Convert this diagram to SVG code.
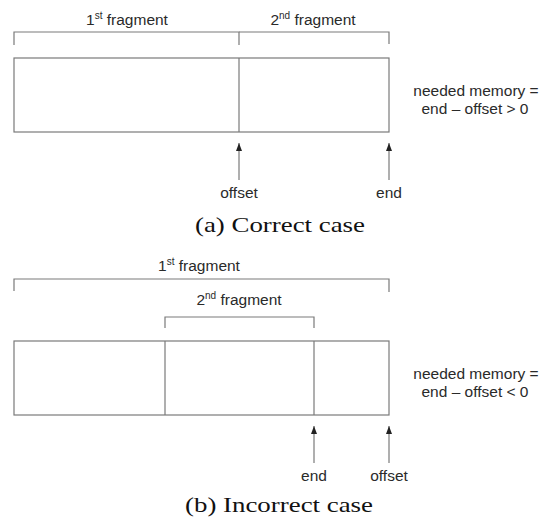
<svg xmlns="http://www.w3.org/2000/svg" width="540" height="520" viewBox="0 0 540 520">
<defs>
<style>
.ln{stroke:#7a7a7a;stroke-width:1.2;fill:none}
.box{stroke:#7a7a7a;stroke-width:1.2;fill:#ffffff}
.arr{stroke:#7a7a7a;stroke-width:1.2;fill:none;marker-end:url(#ah)}
.lbl{font-family:"Liberation Sans",Arial,sans-serif;font-size:15.5px;fill:#2a2a2a}
.sup{font-size:10px}
.cap{font-family:"Liberation Serif","Times New Roman",serif;font-size:21px;fill:#111}
</style>
<marker id="ah" viewBox="0 0 8 6" refX="8" refY="3" markerUnits="userSpaceOnUse" markerWidth="8" markerHeight="6" orient="auto">
<path d="M0,0 L8,3 L0,6 z" fill="#222"/>
</marker>
</defs>
<rect width="540" height="520" fill="#ffffff"/>

<!-- Panel (a) -->
<g id="a-frag1">
<path class="ln" d="M14,45 V32 H239 V45"/>
<text class="lbl" x="127" y="25" text-anchor="middle">1<tspan class="sup" dy="-6">st</tspan><tspan dy="6"> fragment</tspan></text>
</g>
<g id="a-frag2">
<path class="ln" d="M239,32 H389 V44"/>
<text class="lbl" x="313" y="25" text-anchor="middle">2<tspan class="sup" dy="-6">nd</tspan><tspan dy="6"> fragment</tspan></text>
</g>
<g id="a-memory">
<rect class="box" x="14" y="58" width="375" height="74"/>
<line class="ln" x1="239" y1="58" x2="239" y2="132"/>
</g>
<g id="a-formula">
<text class="lbl" x="476" y="96" text-anchor="middle">needed memory =</text>
<text class="lbl" x="475" y="114" text-anchor="middle">end – offset &gt; 0</text>
</g>
<g id="a-connectors">
<line class="arr" x1="239" y1="180" x2="239" y2="143"/>
<line class="arr" x1="389" y1="180" x2="389" y2="143"/>
</g>
<g id="a-offset"><text class="lbl" x="239" y="198" text-anchor="middle">offset</text></g>
<g id="a-end"><text class="lbl" x="389" y="198" text-anchor="middle">end</text></g>
<g id="a-caption"><text class="cap" x="195" y="232" textLength="170" lengthAdjust="spacingAndGlyphs">(a) Correct case</text></g>

<!-- Panel (b) -->
<g id="b-frag1">
<path class="ln" d="M14,291 V279 H389 V292"/>
<text class="lbl" x="199" y="271" text-anchor="middle">1<tspan class="sup" dy="-6">st</tspan><tspan dy="6"> fragment</tspan></text>
</g>
<g id="b-frag2">
<path class="ln" d="M165,328 V317 H314 V328"/>
<text class="lbl" x="239" y="305" text-anchor="middle">2<tspan class="sup" dy="-6">nd</tspan><tspan dy="6"> fragment</tspan></text>
</g>
<g id="b-memory">
<rect class="box" x="14" y="341" width="375" height="74"/>
<line class="ln" x1="165" y1="341" x2="165" y2="415"/>
<line class="ln" x1="314" y1="341" x2="314" y2="415"/>
</g>
<g id="b-formula">
<text class="lbl" x="476" y="379" text-anchor="middle">needed memory =</text>
<text class="lbl" x="475" y="397" text-anchor="middle">end – offset &lt; 0</text>
</g>
<g id="b-connectors">
<line class="arr" x1="314" y1="463" x2="314" y2="426"/>
<line class="arr" x1="389" y1="463" x2="389" y2="426"/>
</g>
<g id="b-end"><text class="lbl" x="314" y="481" text-anchor="middle">end</text></g>
<g id="b-offset"><text class="lbl" x="389" y="481" text-anchor="middle">offset</text></g>
<g id="b-caption"><text class="cap" x="185" y="512" textLength="188" lengthAdjust="spacingAndGlyphs">(b) Incorrect case</text></g>
</svg>
